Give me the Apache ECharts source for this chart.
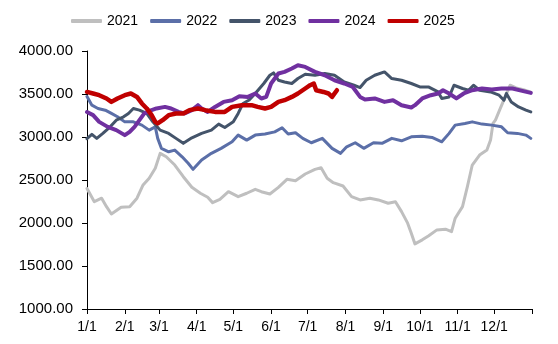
<!DOCTYPE html>
<html>
<head>
<meta charset="utf-8">
<script src="https://cdn.jsdelivr.net/npm/echarts@6/dist/echarts.min.js"></script>
<style>
html,body{margin:0;padding:0;background:#fff;}
#chart{width:558px;height:344px;}
</style>
</head>
<body>
<div id="chart"></div>
<script>
// x = day of year (0 = 1/1), y = value
const monthStarts = [0, 31, 59, 90, 120, 151, 181, 212, 243, 273, 304, 334];
const monthLabels = ['1/1','2/1','3/1','4/1','5/1','6/1','7/1','8/1','9/1','10/1','11/1','12/1'];
const seriesNames = ['2021','2022','2023','2024','2025'];

const s2021 = [[0,2400],[6,2248],[12,2288],[16,2190],[20,2105],[28,2183],[35,2190],[41,2288],[46,2442],[51,2520],[56,2636],[60,2810],[65,2770],[72,2674],[79,2538],[86,2415],[93,2346],[99,2299],[103,2237],[109,2276],[116,2364],[124,2306],[131,2346],[138,2392],[143,2364],[150,2337],[157,2415],[164,2508],[171,2492],[179,2570],[187,2624],[192,2643],[197,2520],[202,2469],[210,2430],[217,2306],[224,2268],[232,2288],[239,2268],[247,2230],[253,2248],[258,2132],[263,1998],[266,1882],[269,1757],[275,1804],[280,1850],[287,1920],[294,1928],[299,1900],[302,2056],[308,2190],[312,2422],[316,2674],[322,2790],[328,2848],[331,2964],[333,3158],[335,3196],[339,3332],[343,3466],[347,3602],[352,3570],[358,3550],[364,3520]];

const s2022 = [[0,3470],[4,3370],[9,3332],[15,3312],[20,3274],[25,3235],[31,3176],[38,3176],[45,3138],[51,3080],[56,3118],[58,2984],[61,2868],[67,2828],[72,2848],[78,2770],[83,2694],[87,2624],[94,2732],[102,2810],[110,2868],[119,2944],[124,3022],[131,2964],[138,3022],[146,3034],[154,3060],[160,3107],[165,3034],[171,3049],[177,2984],[184,2933],[193,2984],[201,2868],[208,2810],[213,2886],[220,2933],[227,2868],[235,2933],[242,2926],[250,2984],[258,2956],[266,3002],[275,3010],[283,2995],[291,2944],[297,3042],[302,3138],[310,3158],[316,3176],[324,3150],[332,3138],[340,3118],[345,3049],[353,3042],[360,3022],[364,2984]];

const s2023 = [[0,2980],[4,3030],[8,2984],[13,3042],[19,3118],[24,3196],[30,3235],[34,3274],[38,3332],[43,3312],[49,3274],[54,3176],[60,3080],[67,3042],[73,2984],[79,2926],[86,2990],[94,3042],[102,3080],[108,3150],[113,3111],[120,3176],[124,3274],[128,3390],[133,3430],[138,3506],[145,3622],[150,3718],[153,3745],[157,3660],[162,3640],[168,3622],[173,3680],[179,3730],[187,3718],[195,3738],[203,3718],[211,3640],[219,3602],[224,3575],[229,3660],[236,3718],[244,3757],[250,3680],[258,3660],[266,3622],[273,3582],[280,3582],[288,3524],[291,3448],[297,3466],[301,3602],[308,3564],[313,3544],[317,3602],[322,3544],[331,3524],[338,3486],[342,3428],[344,3506],[348,3408],[354,3350],[360,3312],[364,3292]];

const s2024 = [[0,3290],[5,3254],[10,3176],[17,3118],[24,3080],[31,3022],[35,3060],[39,3118],[43,3196],[47,3274],[53,3312],[57,3332],[64,3350],[69,3332],[75,3292],[80,3274],[86,3312],[91,3370],[94,3332],[99,3292],[105,3350],[112,3408],[119,3428],[125,3474],[132,3466],[138,3506],[143,3448],[147,3466],[151,3622],[157,3738],[162,3757],[168,3796],[173,3834],[179,3815],[187,3757],[195,3718],[203,3660],[211,3622],[218,3582],[224,3466],[228,3436],[236,3448],[244,3408],[251,3428],[258,3370],[266,3343],[269,3370],[275,3448],[282,3486],[288,3506],[292,3544],[297,3506],[303,3448],[309,3506],[316,3544],[324,3564],[332,3552],[340,3564],[349,3564],[357,3536],[364,3513]];

const s2025 = [[0,3524],[5,3506],[10,3486],[16,3448],[20,3408],[25,3448],[31,3486],[36,3506],[41,3466],[45,3390],[49,3332],[53,3254],[56,3176],[58,3158],[62,3196],[67,3254],[73,3274],[79,3274],[84,3312],[91,3332],[97,3312],[105,3292],[113,3292],[119,3350],[127,3370],[135,3370],[140,3350],[146,3332],[151,3350],[157,3408],[162,3428],[168,3466],[173,3506],[179,3564],[183,3602],[186,3622],[188,3544],[194,3524],[198,3506],[201,3466],[205,3544]];

const colors = ['#BFBFBF', '#5B6FA8', '#44546A', '#7030A0', '#C00000'];
const widths = [3, 3, 3, 4, 4.5];
const allData = [s2021, s2022, s2023, s2024, s2025];

const chart = echarts.init(document.getElementById('chart'), null, {renderer: 'canvas'});
const font = 'Liberation Sans, Arial, sans-serif';
chart.setOption({
  animation: false,
  color: colors,
  legend: {
    left: 66, top: 9,
    icon: 'roundRect',
    itemWidth: 31, itemHeight: 4, itemGap: 12,
    textStyle: {fontFamily: font, fontSize: 14, color: '#000'},
    data: seriesNames
  },
  grid: {left: 87, right: 26, top: 51, bottom: 35, containLabel: false},
  xAxis: {
    type: 'value', min: 0, max: 365,
    axisLine: {show: true, lineStyle: {color: '#000', width: 1}},
    axisTick: {show: true, length: 5, lineStyle: {color: '#000'}, customValues: monthStarts.concat([365])},
    axisLabel: {
      customValues: monthStarts,
      formatter: function (v) { const i = monthStarts.indexOf(v); return i >= 0 ? monthLabels[i] : ''; },
      fontFamily: font, fontSize: 14, color: '#000', margin: 11
    },
    splitLine: {show: false}
  },
  yAxis: {
    type: 'value', min: 1000, max: 4000, interval: 500,
    axisLine: {show: true, lineStyle: {color: '#000', width: 1}},
    axisTick: {show: true, length: 5, lineStyle: {color: '#000'}},
    axisLabel: {
      formatter: function (v) { return v.toFixed(2); },
      fontFamily: font, fontSize: 15, color: '#000', margin: 14
    },
    splitLine: {show: false}
  },
  series: seriesNames.map(function (n, i) {
    return {
      name: n, type: 'line', data: allData[i],
      showSymbol: false, symbol: 'none',
      lineStyle: {color: colors[i], width: widths[i], join: 'round', cap: 'round'},
      itemStyle: {color: colors[i]},
      z: 2 + i
    };
  })
});
</script>
</body>
</html>
